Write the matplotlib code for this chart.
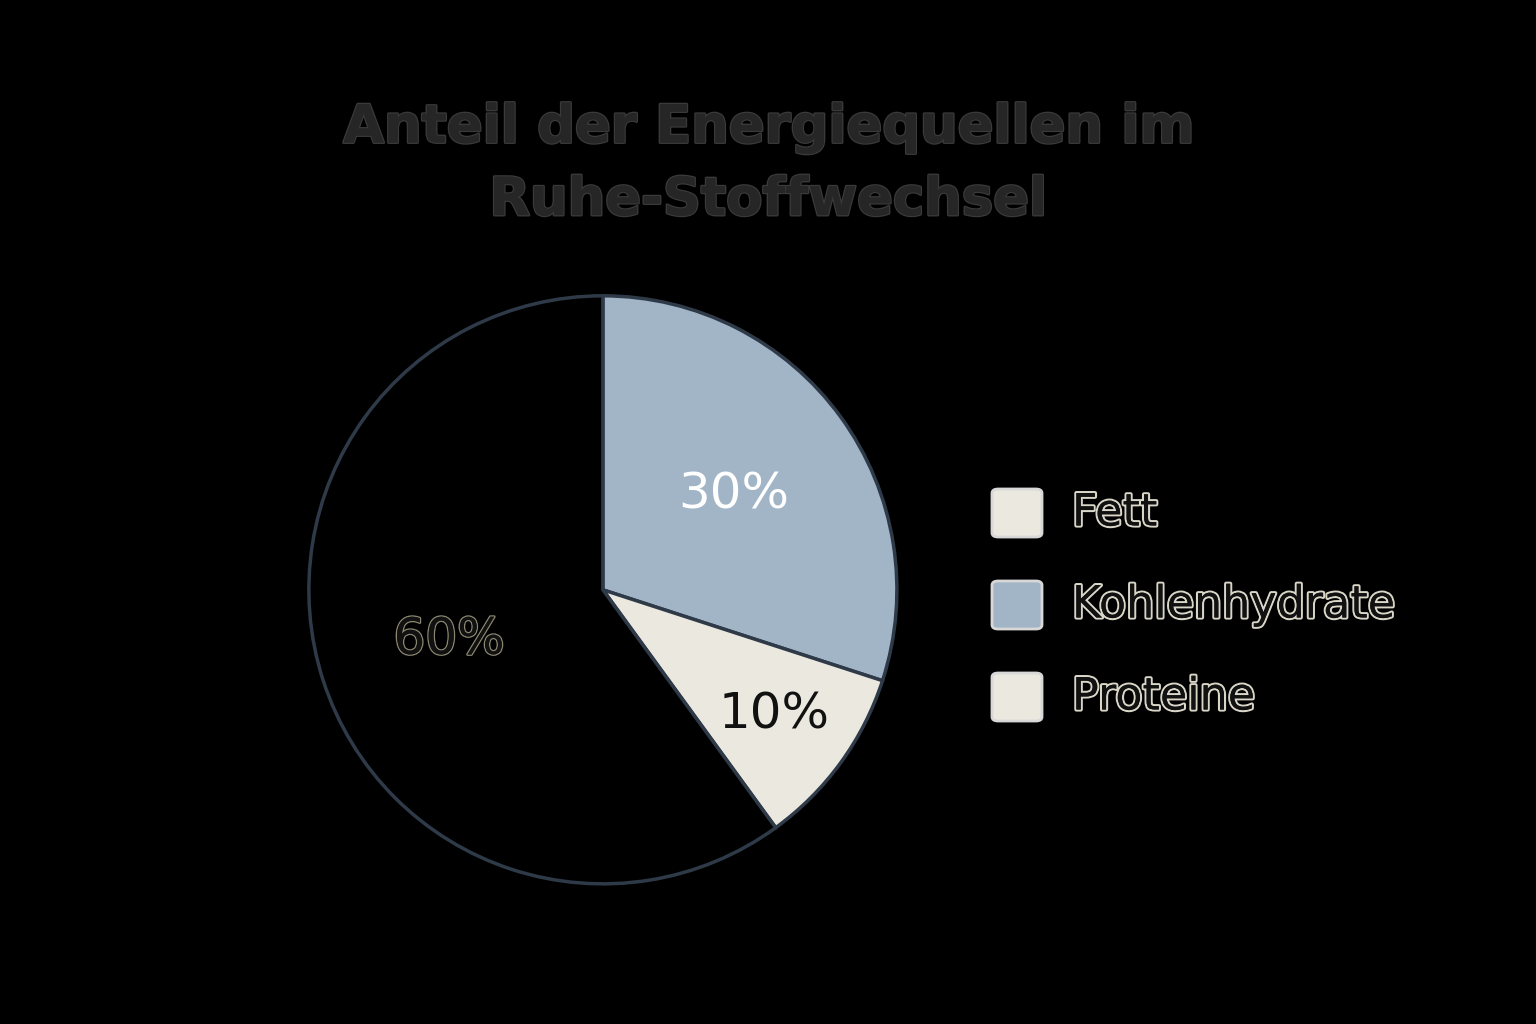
import matplotlib.pyplot as plt
import matplotlib.patheffects as pe
from matplotlib.patches import FancyBboxPatch
import numpy as np

labels = ["Fett", "Kohlenhydrate", "Proteine"]
values = [60, 30, 10]
colors = ["#000000", "#a2b5c7", "#ebe8df"]
label_colors = ["#1a1a1a", "#ffffff", "#111111"]

fig = plt.figure(figsize=(15.36, 10.24), dpi=100, facecolor="black")
ax = fig.add_axes([0.199, 0.134, 0.387, 0.58])
ax.set_facecolor("black")

# draw clockwise from top: Kohlenhydrate, Proteine, Fett
order = [1, 2, 0]
wedges, _ = ax.pie([values[i] for i in order], colors=[colors[i] for i in order],
                   startangle=90, counterclock=False,
                   wedgeprops=dict(edgecolor="#2f3a48", linewidth=2.5))
ax.set_xlim(-1.01, 1.01)
ax.set_ylim(-1.01, 1.01)
ax.set_aspect("equal")

ang = 90
for i in order:
    span = values[i] / 100 * 360
    mid = np.deg2rad(ang - span / 2)
    r = 0.55 if values[i] > 15 else 0.72
    t = ax.text(r * np.cos(mid), r * np.sin(mid), f"{values[i]}%", ha="center", va="center",
                fontsize=36, color=label_colors[i])
    if i == 0:
        t.set_path_effects([pe.withStroke(linewidth=2, foreground="#8a8670"), pe.Normal()])
        t.set_color("#111111")
    ang -= span

title = fig.text(0.5, 0.84, "Anteil der Energiequellen im\nRuhe-Stoffwechsel", ha="center", va="center",
                 fontsize=38, fontweight="bold", color="#262626", linespacing=1.5)
title.set_path_effects([pe.withStroke(linewidth=2, foreground="#3a3a3a"), pe.Normal()])

for k, lab in enumerate(labels):
    y = 1 - (513 + 92 * k) / 1024
    fig.patches.append(FancyBboxPatch((992 / 1536, y - 24 / 1024), 50 / 1536, 48 / 1024,
                                      boxstyle="round,pad=0,rounding_size=0.004",
                                      transform=fig.transFigure, facecolor=colors[k] if k else "#ebe8df",
                                      edgecolor="#d8d8d8", linewidth=2))
    t = fig.text(1072 / 1536, y, lab, ha="left", va="center", fontsize=32, color="#111111")
    t.set_path_effects([pe.withStroke(linewidth=3, foreground="#d9d6c8"), pe.Normal()])

fig.savefig("out.png", facecolor="black")
